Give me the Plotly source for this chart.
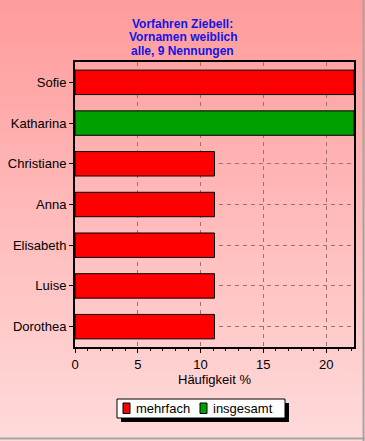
import plotly.graph_objects as go

categories = ["Sofie", "Katharina", "Christiane", "Anna", "Elisabeth", "Luise", "Dorothea"]
mehrfach = [22.22, None, 11.11, 11.11, 11.11, 11.11, 11.11]
insgesamt = [None, 22.22, None, None, None, None, None]
x_ticks = [0, 5, 10, 15, 20]
series_names = ["mehrfach", "insgesamt"]
series_colors = ["#ff0000", "#00a000"]
title_lines = ["Vorfahren Ziebell:", "Vornamen weiblich", "alle, 9 Nennungen"]

font = "Arial, Liberation Sans, sans-serif"
W, H = 365, 441
L, R, T, B = 75, 11, 62, 94
PW, PH = W - L - R, H - T - B


def px(x):
    return (x - L) / PW


def py(y):
    return (H - B - y) / PH


fig = go.Figure()
for name, vals, col in zip(series_names, [mehrfach, insgesamt], series_colors):
    fig.add_trace(go.Bar(y=categories, x=vals, orientation="h", name=name,
                         marker=dict(color=col, line=dict(color="black", width=1)), width=0.6))

shapes = []
# background gradient bands
n = 70
top = (255, 156, 156)
bot = (255, 218, 218)
for i in range(n):
    t = i / (n - 1)
    c = tuple(int(round(top[k] + (bot[k] - top[k]) * t)) for k in range(3))
    y0 = i * H / n
    y1 = (i + 1) * H / n + 1
    shapes.append(dict(type="rect", xref="paper", yref="paper", layer="below",
                       x0=px(0), x1=px(W), y0=py(y1), y1=py(y0),
                       fillcolor="rgb(%d,%d,%d)" % c, line=dict(width=0)))
# window frame (right/bottom)
shapes.append(dict(type="line", xref="paper", yref="paper", x0=px(0), x1=px(W), y0=py(438.5), y1=py(438.5),
                   line=dict(color="rgb(165,165,165)", width=2)))
shapes.append(dict(type="line", xref="paper", yref="paper", x0=px(363.5), x1=px(363.5), y0=py(0), y1=py(441),
                   line=dict(color="rgb(165,165,165)", width=2)))

# custom legend box with shadow
lx0, lx1, ly0, ly1 = 117, 285, 399, 418
shapes.append(dict(type="rect", xref="paper", yref="paper", x0=px(lx0 + 4), x1=px(lx1 + 4),
                   y0=py(ly1 + 4), y1=py(ly0 + 4), fillcolor="black", line=dict(width=0)))
shapes.append(dict(type="rect", xref="paper", yref="paper", x0=px(lx0), x1=px(lx1),
                   y0=py(ly1), y1=py(ly0), fillcolor="white", line=dict(color="black", width=1)))
annotations = []
sq_x = [123, 200]
for sx, name, col in zip(sq_x, series_names, series_colors):
    shapes.append(dict(type="rect", xref="paper", yref="paper", x0=px(sx), x1=px(sx + 7),
                       y0=py(413.5), y1=py(403), fillcolor=col, line=dict(color="black", width=1)))
    annotations.append(dict(text=name, xref="paper", yref="paper", x=px(sx + 11), y=py(408.5),
                            xanchor="left", yanchor="middle", showarrow=False,
                            font=dict(family=font, size=13, color="black")))

for i, line in enumerate(title_lines):
    annotations.append(dict(text="<b>%s</b>" % line, xref="paper", yref="paper",
                            x=px(182.5), y=py(24 + 13.5 * i), xanchor="center", yanchor="middle",
                            showarrow=False, font=dict(family=font, size=12, color="#1414e6")))

grid_col = "rgb(160,110,110)"
fig.update_layout(
    width=W, height=H,
    margin=dict(l=L, r=R, t=T, b=B),
    paper_bgcolor="rgb(255,190,190)",
    plot_bgcolor="rgba(0,0,0,0)",
    barmode="relative",
    shapes=shapes,
    annotations=annotations,
    font=dict(family=font, size=13, color="black"),
    showlegend=False,
    xaxis=dict(range=[0, 22.22], tickvals=x_ticks, showline=True, linecolor="black",
               linewidth=2, mirror=True, ticks="outside", ticklen=4, tickcolor="black",
               showgrid=True, gridcolor=grid_col, griddash="4px,4px", gridwidth=1,
               zeroline=False, automargin=False,
               minor=dict(dtick=1, ticks="outside", ticklen=2, tickcolor="black", showgrid=False),
               title=dict(text="Häufigkeit %", font=dict(family=font, size=13), standoff=4)),
    yaxis=dict(autorange="reversed", showline=True, linecolor="black", linewidth=2, mirror=True,
               ticks="outside", ticklen=4, tickcolor="black", automargin=False,
               showgrid=True, gridcolor=grid_col, griddash="4px,4px", gridwidth=1),
)

fig.write_html("out.html", config={"displayModeBar": False},
               post_script="document.body.style.margin='0';document.body.style.overflow='hidden';")
